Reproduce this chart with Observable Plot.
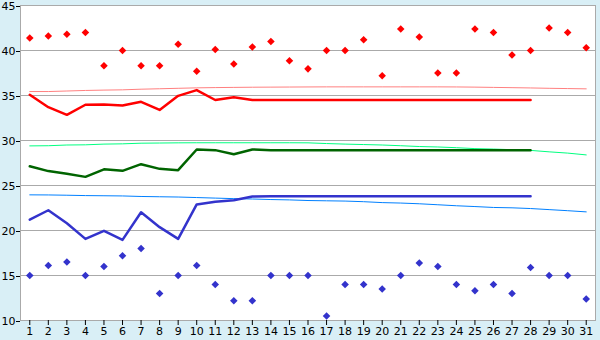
<!DOCTYPE html>
<html><head><meta charset="utf-8">
<script src="https://cdn.jsdelivr.net/npm/d3@7"></script>
<script src="https://cdn.jsdelivr.net/npm/@observablehq/plot@0.6"></script>
<style>
html,body{margin:0;padding:0;background:#d9eff6;}
#chart svg{display:block;}
</style></head><body><div id="chart"></div>
<script>
const days = [1,2,3,4,5,6,7,8,9,10,11,12,13,14,15,16,17,18,19,20,21,22,23,24,25,26,27,28,29,30,31];
const yTicks = [10,15,20,25,30,35,40,45];
const gridLines = [15,20,25,30,35,40];

const maxPoints = [41.4,41.6,41.8,42.0,38.3,40.0,38.3,38.3,40.7,37.7,40.1,38.5,40.4,41.0,38.85,37.96,40.0,40.0,41.2,37.2,42.4,41.5,37.5,37.5,42.4,42.0,39.5,40.0,42.5,42.0,40.3];
const minPoints = [15.0,16.1,16.5,15.0,16.0,17.2,18.0,13.0,15.0,16.1,14.0,12.2,12.2,15.0,15.0,15.0,10.5,14.0,14.0,13.5,15.0,16.4,16.0,14.0,13.3,14.0,13.0,15.9,15.0,15.0,12.4];

const maxAvg = [35.08,33.7,32.85,33.97,34.0,33.9,34.3,33.4,34.96,35.6,34.5,34.8,34.5,34.5,34.5,34.5,34.5,34.5,34.5,34.5,34.5,34.5,34.5,34.5,34.5,34.5,34.5,34.5];
const meanAvg = [27.14,26.6,26.3,25.96,26.8,26.63,27.37,26.85,26.7,29.0,28.93,28.48,29.0,28.93,28.93,28.93,28.93,28.93,28.93,28.93,28.93,28.93,28.93,28.93,28.93,28.93,28.93,28.93];
const minAvg = [21.2,22.25,20.8,19.07,19.96,18.96,22.03,20.37,19.07,22.9,23.2,23.37,23.78,23.81,23.81,23.81,23.81,23.81,23.81,23.81,23.81,23.81,23.81,23.81,23.81,23.81,23.81,23.81];

const maxNormal = [35.44,35.44,35.5,35.56,35.6,35.63,35.7,35.75,35.8,35.85,35.88,35.9,35.92,35.93,35.94,35.95,35.96,35.96,35.96,35.96,35.96,35.96,35.96,35.95,35.93,35.9,35.87,35.84,35.8,35.77,35.74];
const meanNormal = [29.4,29.42,29.5,29.52,29.6,29.63,29.7,29.72,29.74,29.75,29.75,29.75,29.75,29.75,29.75,29.74,29.66,29.6,29.55,29.5,29.42,29.33,29.28,29.2,29.1,29.05,28.98,28.9,28.74,28.6,28.4];
const minNormal = [23.96,23.95,23.92,23.88,23.86,23.84,23.78,23.75,23.72,23.66,23.6,23.54,23.5,23.44,23.4,23.33,23.3,23.27,23.2,23.1,23.05,22.97,22.86,22.75,22.66,22.56,22.52,22.44,22.32,22.2,22.07];

const toRows = (vals) => vals.map((v, i) => ({day: days[i], v}));

const chart = Plot.plot({
  width: 600,
  height: 340,
  marginLeft: 20,
  marginRight: 5,
  marginTop: 5,
  marginBottom: 20,
  style: {background: "#d9eff6", fontFamily: "DejaVu Sans, Verdana, sans-serif", fontSize: "11px", color: "black"},
  x: {domain: [0.5, 31.5]},
  y: {domain: [10, 45]},
  marks: [
    Plot.frame({fill: "white", stroke: "#aaaaaa"}),
    Plot.ruleY(gridLines, {stroke: "#aaaaaa", strokeWidth: 1}),
    Plot.line(toRows(maxNormal), {x: "day", y: "v", stroke: "#ff8080", strokeWidth: 1}),
    Plot.line(toRows(meanNormal), {x: "day", y: "v", stroke: "#00ff80", strokeWidth: 1}),
    Plot.line(toRows(minNormal), {x: "day", y: "v", stroke: "#0080ff", strokeWidth: 1}),
    Plot.line(toRows(maxAvg), {x: "day", y: "v", stroke: "#ff0000", strokeWidth: 2.5}),
    Plot.line(toRows(meanAvg), {x: "day", y: "v", stroke: "#006400", strokeWidth: 2.5}),
    Plot.line(toRows(minAvg), {x: "day", y: "v", stroke: "#3333cc", strokeWidth: 2.5}),
    Plot.dot(toRows(maxPoints), {x: "day", y: "v", symbol: "diamond2", r: 3.4, fill: "#ff0000", stroke: "none"}),
    Plot.dot(toRows(minPoints), {x: "day", y: "v", symbol: "diamond2", r: 3.4, fill: "#3333cc", stroke: "none"}),
    Plot.axisX({ticks: days, tickFormat: d => String(d), tickSize: 5, tickPadding: 2, label: null, stroke: "black", fill: "black", fontSize: 11}),
    Plot.axisY({ticks: yTicks, tickFormat: d => String(d), tickSize: 4, tickPadding: 1, label: null, stroke: "black", fill: "black", fontSize: 11, dy: 1})
  ]
});
document.getElementById("chart").appendChild(chart);
</script>
</body></html>
